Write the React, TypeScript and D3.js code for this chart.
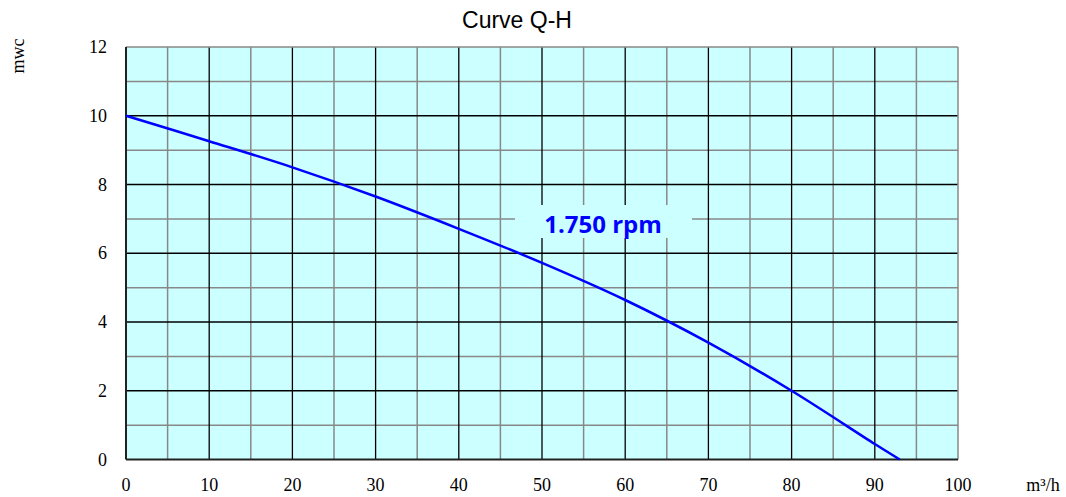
import React from "react";
import * as d3 from "d3";

const flowQ = [0, 10, 20, 30, 40, 50, 60, 70, 80, 90, 93];
const headH = [10, 9.26, 8.5, 7.65, 6.71, 5.72, 4.64, 3.4, 2.0, 0.45, 0];
const xTicks = [0, 10, 20, 30, 40, 50, 60, 70, 80, 90, 100];
const yTicks = [0, 2, 4, 6, 8, 10, 12];

export default function App() {
  const W = 1066, H = 497;
  const L = 126, R = 958, T = 47, B = 459.5;
  const x = d3.scaleLinear().domain([0, 100]).range([L, R]);
  const y = d3.scaleLinear().domain([0, 12]).range([B, T]);
  const minorX = d3.range(5, 100, 10);
  const minorY = d3.range(1, 12, 2);
  const line = d3.line<number>().x((_, i) => x(flowQ[i])).y((d) => y(d)).curve(d3.curveCatmullRom.alpha(0.5));
  return (
    <svg width={W} height={H} style={{ position: "absolute", left: 0, top: 0 }}>
      <rect x={L} y={T} width={R - L} height={B - T} fill="#ccffff" />
      {minorX.map((v) => (
        <line key={"mx" + v} x1={x(v)} x2={x(v)} y1={T} y2={B} stroke="#888" strokeWidth={1.5} />
      ))}
      {minorY.map((v) => (
        <line key={"my" + v} x1={L} x2={R} y1={y(v)} y2={y(v)} stroke="#888" strokeWidth={1.5} />
      ))}
      {xTicks.slice(1, -1).map((v) => (
        <line key={"Mx" + v} x1={x(v)} x2={x(v)} y1={T} y2={B} stroke="#000" strokeWidth={1.3} />
      ))}
      {yTicks.slice(1, -1).map((v) => (
        <line key={"My" + v} x1={L} x2={R} y1={y(v)} y2={y(v)} stroke="#000" strokeWidth={1.3} />
      ))}
      <line x1={L} x2={R} y1={T} y2={T} stroke="#888" strokeWidth={1.5} />
      <line x1={R} x2={R} y1={T} y2={B} stroke="#888" strokeWidth={1.5} />
      <line x1={L} x2={L} y1={T} y2={B} stroke="#222" strokeWidth={2} />
      <line x1={L} x2={R} y1={B} y2={B} stroke="#222" strokeWidth={2} />
      <rect x={515} y={205} width={177} height={33} fill="#ccffff" />
      <path d={line(headH) || ""} fill="none" stroke="#0000ff" strokeWidth={2.5} />
      <text x={603} y={233} textAnchor="middle" fill="#0000ff" fontFamily="'Open Sans', sans-serif" fontWeight="bold" fontSize={24}>1.750 rpm</text>
      <text x={517} y={28} textAnchor="middle" fontFamily="'Liberation Sans', Arial, sans-serif" fontSize={23}>Curve Q-H</text>
      {yTicks.map((v) => (
        <text key={"yl" + v} x={107} y={y(v) + 6} textAnchor="end" fontFamily="'Liberation Serif', serif" fontSize={18}>{v}</text>
      ))}
      {xTicks.map((v) => (
        <text key={"xl" + v} x={x(v)} y={491} textAnchor="middle" fontFamily="'Liberation Serif', serif" fontSize={18}>{v}</text>
      ))}
      <text x={1043} y={491} textAnchor="middle" fontFamily="'Liberation Serif', serif" fontSize={18}>m³/h</text>
      <text transform="translate(24,56) rotate(-90)" textAnchor="middle" fontFamily="'Liberation Serif', serif" fontSize={18}>mwc</text>
    </svg>
  );
}
